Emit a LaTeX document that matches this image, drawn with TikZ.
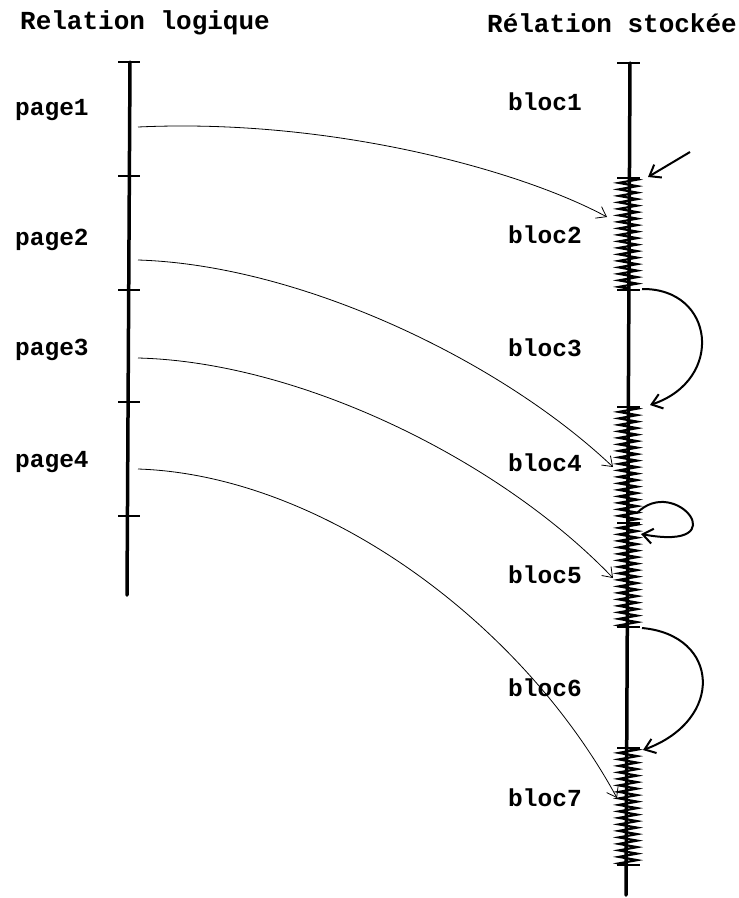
\documentclass[tikz,border=0pt]{standalone}
\usepackage{fontspec}
\setmonofont{Liberation Mono}
\usetikzlibrary{arrows.meta,decorations.pathmorphing}

\begin{document}
\begin{tikzpicture}[
  x=1pt, y=-1pt,
  lbl/.style={font=\ttfamily\bfseries\fontsize{24.5}{28}\selectfont, inner sep=0pt},
  titre/.style={font=\ttfamily\bfseries\fontsize{26}{30}\selectfont, inner sep=0pt},
  axe/.style={line width=3.5pt, line cap=round},
  tickmark/.style={line width=2.5pt},
  hatch/.style={line width=2.2pt, decorate, decoration={zigzag, segment length=6.5pt, amplitude=9pt}},
  lien/.style={-{Straight Barb[length=9pt,width=13pt]}, line width=0.8pt},
  saut/.style={-{Straight Barb[length=10pt,width=15pt]}, line width=2pt}
]
\useasboundingbox (0,0) rectangle (739,898);

% titres
\node[titre] (tlog) at (145,23) {Relation logique};
\node[titre] (tsto) at (612,23) {Rélation stockée};

% relation logique
\draw[axe] (130,62) -- (127,595);
\foreach \y in {62,176,290,402,516}
  \draw[tickmark] (118,\y) -- (140,\y);
\foreach \n/\y in {1/110,2/240,3/350,4/462}
  \node[lbl, anchor=west] (page\n) at (15,\y) {page\n};

% relation stockee
\draw[axe] (630,63) -- (626,895);
\foreach \y in {63,178,290,407,523,627,748,865}
  \draw[tickmark] (617,\y) -- (640,\y);
\foreach \a/\b in {178/290,407/523,523/627,748/865}
  \draw[hatch] (628,\a) -- (628,\b);
\foreach \n/\y in {1/102,2/235,3/348,4/463,5/575,6/688,7/798}
  \node[lbl, anchor=west] (bloc\n) at (508,\y) {bloc\n};

% points de depart et d'arrivee
\coordinate (p1) at (138,127);
\coordinate (p2) at (138,260);
\coordinate (p3) at (138,358);
\coordinate (p4) at (138,469);
\coordinate (b2) at (607,217);
\coordinate (b4) at (613,467);
\coordinate (b5) at (613,578);
\coordinate (b7) at (617,798);

\draw[lien] (p1) .. controls (330,118) and (520,170) .. (b2);
\draw[lien] (p2) .. controls (300,265) and (500,360) .. (b4);
\draw[lien] (p3) .. controls (300,362) and (500,460) .. (b5);
\draw[lien] (p4) .. controls (320,475) and (520,620) .. (b7);

% chainage des blocs
\coordinate (s0) at (690,152);
\coordinate (s1) at (648,177);
\coordinate (c2) at (642,289);
\coordinate (c3) at (650,405);
\coordinate (c4) at (637,513);
\coordinate (c5) at (641,534);
\coordinate (c6) at (642,628);
\coordinate (c7) at (643,750);

\draw[saut] (s0) -- (s1);
\draw[saut] (c2) .. controls (715,288) and (725,380) .. (c3);
\draw[saut] (c4) .. controls (675,474) and (738,552) .. (c5);
\draw[saut] (c6) .. controls (720,635) and (725,720) .. (c7);
\end{tikzpicture}
\end{document}
